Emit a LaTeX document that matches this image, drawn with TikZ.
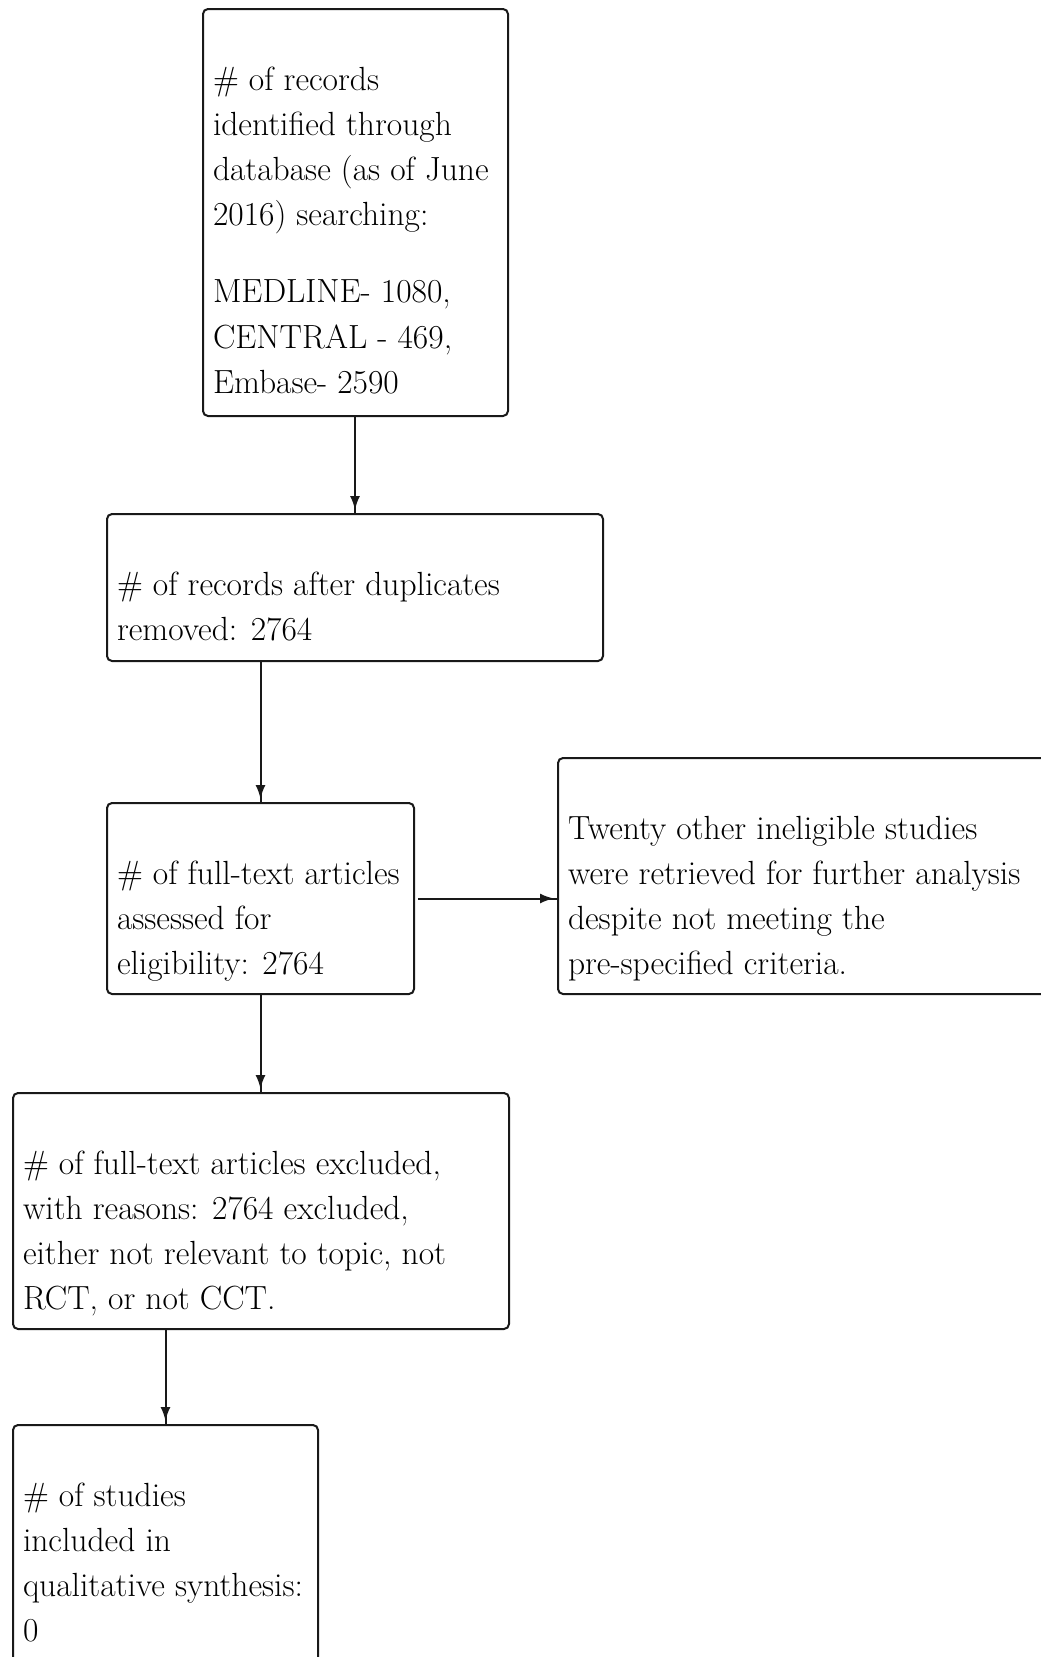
\documentclass[tikz,border=0pt]{standalone}
\usetikzlibrary{arrows.meta}
\newcommand{\boxtxt}[3]{\begin{minipage}[t][#2][t]{#1}\vspace*{49.5pt}\raggedright\leftskip=10pt\relax\parindent=0pt\strut#3\end{minipage}}
\tikzset{
  flowbox/.style={draw=black!90, line width=2pt, rounded corners=5pt, inner sep=0pt,
    anchor=north west, font=\fontsize{33.5}{45}\selectfont},
  conn/.style={draw=black!90, line width=2pt,
    -{Latex[length=14pt,width=10pt]Rectangle[length=3pt,width=2pt]}}
}
\begin{document}
\begin{tikzpicture}[x=1pt,y=-1pt]
\useasboundingbox (0,0) rectangle (1041,1657);
\clip (0,0) rectangle (1041,1657);
\node[flowbox] (b1) at (202,8) {\boxtxt{305pt}{407pt}{\# of records\\identified through\\database (as of June\\2016) searching:\\[33pt]MEDLINE- 1080,\\CENTRAL - 469,\\Embase- 2590}};
\node[flowbox] (b2) at (106,513) {\boxtxt{496pt}{147pt}{\# of records after duplicates\\removed: 2764}};
\node[flowbox] (b3) at (106,802) {\boxtxt{307pt}{191pt}{\# of full-text articles\\assessed for\\eligibility: 2764}};
\node[flowbox] (b4) at (557,757) {\boxtxt{520pt}{236pt}{Twenty other ineligible studies\\were retrieved for further analysis\\despite not meeting the\\pre-specified criteria.}};
\node[flowbox] (b5) at (12,1092) {\boxtxt{496pt}{236pt}{\# of full-text articles excluded,\\with reasons: 2764 excluded,\\either not relevant to topic, not\\RCT, or not CCT.}};
\node[flowbox] (b6) at (12,1424) {\boxtxt{305pt}{240pt}{\# of studies\\included in\\qualitative synthesis:\\0}};
\draw[conn] (b2.north |- b1.south) -- (b2.north);
\draw[conn] (b3.north |- b2.south) -- (b3.north);
\draw[conn, shorten <=3pt] (b3.east) -- (b4.west |- b3.east);
\draw[conn] (b3.south) -- (b3.south |- b5.north);
\draw[conn] (b6.north |- b5.south) -- (b6.north);
\end{tikzpicture}
\end{document}
